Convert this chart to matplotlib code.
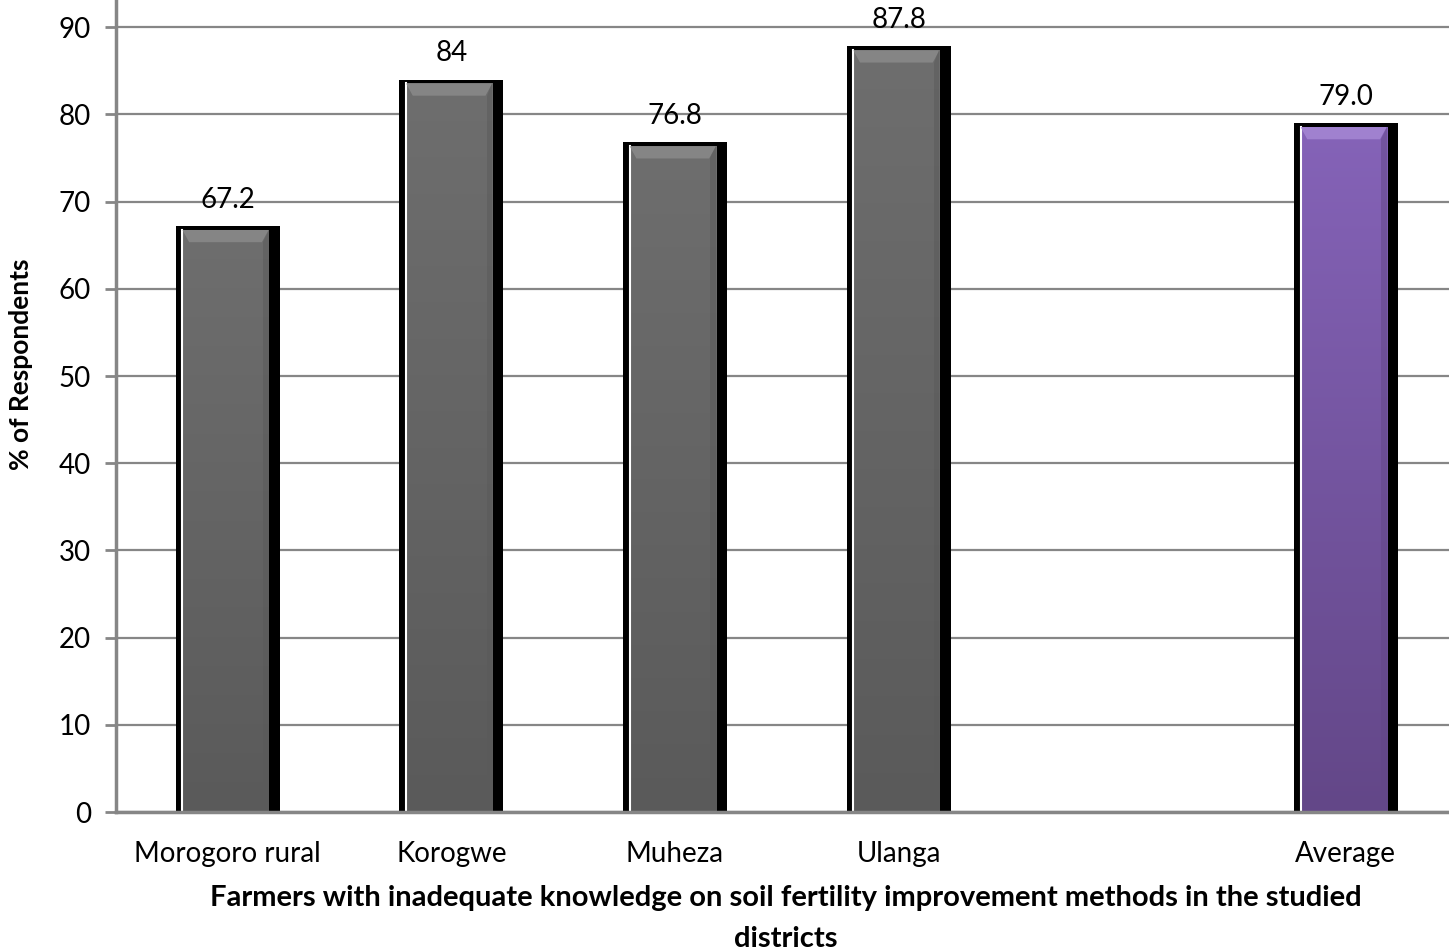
import numpy as np
import matplotlib.pyplot as plt
from matplotlib.patches import Rectangle, Polygon
from matplotlib.colors import LinearSegmentedColormap

# share of farmers with inadequate knowledge, per district
districts = ['Morogoro rural', 'Korogwe', 'Muheza', 'Ulanga', '', 'Average']
percent = [67.2, 84, 76.8, 87.8, None, 79.0]
value_text = ['67.2', '84', '76.8', '87.8', '', '79.0']
bar_colours = ['grey', 'grey', 'grey', 'grey', None, 'purple']

yticks = list(range(0, 100, 10))

plt.rcParams['font.family'] = ['Lato', 'DejaVu Sans']

shades = {
    'grey': ('#6e6e6e', '#5a5a5a', '#8c8c8c'),
    'purple': ('#8563b8', '#634788', '#a88ad6'),
}

fig = plt.figure(figsize=(14.49, 9.52), dpi=100)
ax = fig.add_axes([0.080, 0.147, 0.926, 0.916])

x = np.arange(len(districts))
width = 0.465
ax.set_xlim(-0.5, len(districts) - 0.5)
ax.set_ylim(0, 100)

for xi, v, c, t in zip(x, percent, bar_colours, value_text):
    if v is None:
        continue
    top_c, bot_c, hi_c = shades[c]
    # black shadow body
    ax.bar(xi, v, width=width, color='black', zorder=2)
    # inner body with vertical gradient
    x0 = xi - width / 2 + 0.030
    x1 = xi + width / 2 - 0.050
    inner_top = v - 0.45
    cmap = LinearSegmentedColormap.from_list('g', [bot_c, top_c])
    grad = np.linspace(0, 1, 256).reshape(-1, 1)
    im = ax.imshow(grad, cmap=cmap, origin='lower', aspect='auto',
                   extent=[x0, x1, 0, inner_top], zorder=3)
    clip = Rectangle((x0, 0), x1 - x0, inner_top, transform=ax.transData)
    im.set_clip_path(clip)
    # white line on left edge
    ax.plot([x0, x0], [0, inner_top], color='white', lw=1.5, zorder=4)
    # bevel on top
    bev = 1.4
    ax.add_patch(Polygon([(x0, inner_top), (x1, inner_top),
                          (x1 - 0.03, inner_top - bev), (x0 + 0.03, inner_top - bev)],
                         closed=True, facecolor=hi_c, edgecolor='none', alpha=0.8, zorder=4))
    ax.add_patch(Polygon([(x1, inner_top), (x1, 0.3), (x1 - 0.025, 0.3), (x1 - 0.025, inner_top - bev)],
                         closed=True, facecolor=bot_c, edgecolor='none', alpha=0.5, zorder=4))
    ax.text(xi, v + 1.5, t, ha='center', va='bottom', fontsize=20, color='black', zorder=5)

ax.set_xticks(x)
ax.set_xticklabels(districts, fontsize=20)
ax.set_yticks(yticks)
ax.set_yticklabels([str(t) for t in yticks], fontsize=20)
ax.tick_params(axis='x', length=0, pad=21)
ax.tick_params(axis='y', length=8, width=2, color='#868686', pad=10)

ax.grid(axis='y', color='#868686', lw=1.6, zorder=0)
ax.set_axisbelow(True)
for s in ['top', 'right']:
    ax.spines[s].set_visible(False)
for s in ['left', 'bottom']:
    ax.spines[s].set_color('#868686')
    ax.spines[s].set_linewidth(2.5)
ax.spines['bottom'].set_zorder(6)

ax.set_ylabel('% of Respondents', fontsize=19, fontweight='bold')
ax.yaxis.set_label_coords(-0.062, 0.513)
fig.text(0.542, 0.070, 'Farmers with inadequate knowledge on soil fertility improvement methods in the studied\ndistricts',
         ha='center', va='top', fontsize=21, fontweight='bold', linespacing=1.7)

fig.savefig('out.png', dpi=100)
